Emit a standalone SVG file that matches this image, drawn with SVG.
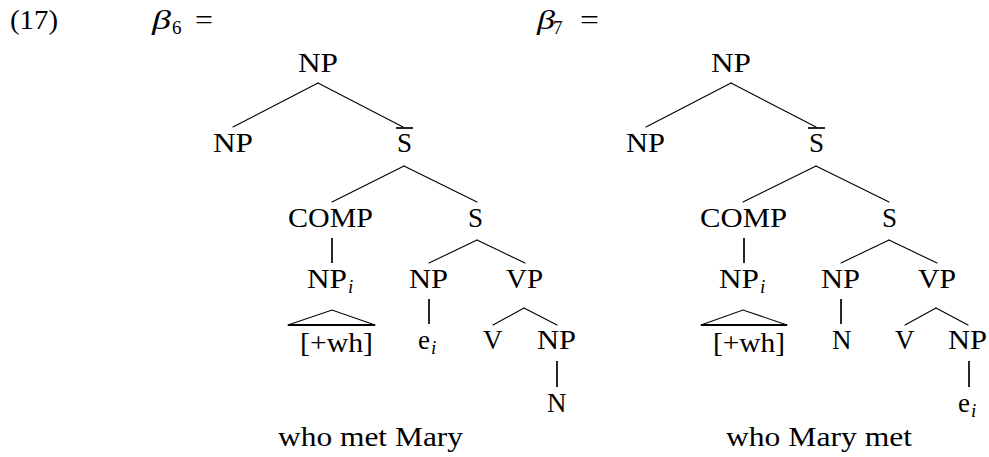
<svg xmlns="http://www.w3.org/2000/svg" width="989" height="457" viewBox="0 0 989 457">
<style>
text{font-family:"Liberation Serif","Times New Roman",serif;font-size:27px;fill:#000}
.it{font-style:italic}
.sub{font-size:19px}
.e{stroke:#000;stroke-width:1.1;fill:none;stroke-linecap:round}
.v{stroke:#000;stroke-width:1.7;fill:none}
.b{stroke:#000;stroke-width:2;fill:none}
</style>
<rect width="989" height="457" fill="#fff"/>
<g id="labels">
<text x="10" y="29" textLength="48" lengthAdjust="spacingAndGlyphs">(17)</text>
<text class="it" x="152" y="29" textLength="19" lengthAdjust="spacingAndGlyphs">β</text><text class="sub" x="172" y="34">6</text><text x="195" y="29" textLength="18" lengthAdjust="spacingAndGlyphs">=</text>
<text class="it" x="537" y="29" textLength="18" lengthAdjust="spacingAndGlyphs">β</text><text class="sub" x="553" y="34">7</text><text x="580" y="29" textLength="19" lengthAdjust="spacingAndGlyphs">=</text>
</g>
<g id="connectors">
<line class="e" x1="318" y1="83" x2="233" y2="127"/><line class="e" x1="318" y1="83" x2="403" y2="127"/>
<line class="e" x1="404" y1="166" x2="332" y2="202"/><line class="e" x1="404" y1="166" x2="477" y2="202"/>
<line class="v" x1="332" y1="238" x2="332" y2="263"/>
<line class="e" x1="477" y1="240" x2="429" y2="263"/><line class="e" x1="477" y1="240" x2="525" y2="263"/>
<polyline class="e" points="288,325 332,310 375,325"/><line class="b" x1="288" y1="325" x2="375" y2="325"/>
<line class="v" x1="429" y1="299" x2="429" y2="324"/>
<line class="e" x1="524" y1="308" x2="493" y2="325"/><line class="e" x1="524" y1="308" x2="557" y2="325"/>
<line class="v" x1="557" y1="361" x2="557" y2="387"/>
<line class="e" x1="731" y1="83" x2="646" y2="127"/><line class="e" x1="731" y1="83" x2="816" y2="127"/>
<line class="e" x1="816" y1="166" x2="743" y2="202"/><line class="e" x1="816" y1="166" x2="889" y2="202"/>
<line class="v" x1="744" y1="238" x2="744" y2="263"/>
<line class="e" x1="889" y1="240" x2="841" y2="263"/><line class="e" x1="889" y1="240" x2="937" y2="263"/>
<polyline class="e" points="701,325 743,310 787,325"/><line class="b" x1="701" y1="325" x2="787" y2="325"/>
<line class="v" x1="841" y1="299" x2="841" y2="324"/>
<line class="e" x1="936" y1="308" x2="905" y2="325"/><line class="e" x1="936" y1="308" x2="968" y2="325"/>
<line class="v" x1="969" y1="361" x2="969" y2="387"/>
</g>
<g id="tree6">
<g id="t6-np-root"><text x="298" y="72" textLength="40" lengthAdjust="spacingAndGlyphs">NP</text></g>
<g id="t6-np"><text x="213" y="152" textLength="40" lengthAdjust="spacingAndGlyphs">NP</text></g>
<g id="t6-sbar"><text x="397" y="152">S</text><line class="v" x1="396" y1="128" x2="413" y2="128"/></g>
<g id="t6-comp"><text x="288" y="227" textLength="85" lengthAdjust="spacingAndGlyphs">COMP</text></g>
<g id="t6-s"><text x="468" y="227">S</text></g>
<g id="t6-npi"><text x="307" y="288" textLength="40" lengthAdjust="spacingAndGlyphs">NP</text><text class="it sub" x="348" y="293">i</text></g>
<g id="t6-np2"><text x="409" y="288" textLength="39" lengthAdjust="spacingAndGlyphs">NP</text></g>
<g id="t6-vp"><text x="506" y="288" textLength="37" lengthAdjust="spacingAndGlyphs">VP</text></g>
<g id="t6-wh"><text x="300" y="352" textLength="73" lengthAdjust="spacingAndGlyphs">[+wh]</text></g>
<g id="t6-ei"><text x="418" y="349">e</text><text class="it sub" x="431" y="354">i</text></g>
<g id="t6-v"><text x="483" y="349">V</text></g>
<g id="t6-np3"><text x="537" y="349" textLength="39" lengthAdjust="spacingAndGlyphs">NP</text></g>
<g id="t6-n"><text x="547" y="412">N</text></g>
<g id="t6-caption"><text x="278" y="446" textLength="185" lengthAdjust="spacingAndGlyphs">who met Mary</text></g>
</g>
<g id="tree7">
<g id="t7-np-root"><text x="711" y="72" textLength="40" lengthAdjust="spacingAndGlyphs">NP</text></g>
<g id="t7-np"><text x="626" y="152" textLength="39" lengthAdjust="spacingAndGlyphs">NP</text></g>
<g id="t7-sbar"><text x="809" y="152">S</text><line class="v" x1="808" y1="128" x2="825" y2="128"/></g>
<g id="t7-comp"><text x="700" y="227" textLength="87" lengthAdjust="spacingAndGlyphs">COMP</text></g>
<g id="t7-s"><text x="882" y="227">S</text></g>
<g id="t7-npi"><text x="719" y="288" textLength="40" lengthAdjust="spacingAndGlyphs">NP</text><text class="it sub" x="760" y="293">i</text></g>
<g id="t7-np2"><text x="821" y="288" textLength="39" lengthAdjust="spacingAndGlyphs">NP</text></g>
<g id="t7-vp"><text x="918" y="288" textLength="38" lengthAdjust="spacingAndGlyphs">VP</text></g>
<g id="t7-wh"><text x="713" y="352" textLength="72" lengthAdjust="spacingAndGlyphs">[+wh]</text></g>
<g id="t7-n"><text x="832" y="349">N</text></g>
<g id="t7-v"><text x="895" y="349">V</text></g>
<g id="t7-np3"><text x="948" y="349" textLength="39" lengthAdjust="spacingAndGlyphs">NP</text></g>
<g id="t7-ei"><text x="958" y="412">e</text><text class="it sub" x="971" y="417">i</text></g>
<g id="t7-caption"><text x="726" y="446" textLength="186" lengthAdjust="spacingAndGlyphs">who Mary met</text></g>
</g>
</svg>
